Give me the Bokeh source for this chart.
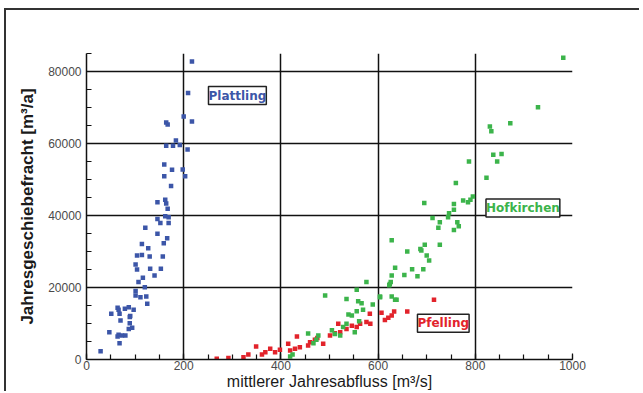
from bokeh.plotting import figure
from bokeh.models import Range1d, FixedTicker, Label, GlobalInlineStyleSheet
from bokeh.embed import file_html
from bokeh.resources import INLINE

# ---- data ----
plattling_x = [217, 209, 200, 217, 164, 167, 164, 178, 184, 192,
               208, 160, 176, 198, 160, 203, 174, 146, 162, 164,
               167, 146, 162, 169, 152, 169, 121, 146, 166, 159,
               114, 127, 104, 114, 130, 157, 101, 104, 131, 140,
               153, 116, 107, 120, 101, 101, 111, 123, 125, 64,
               66, 79, 87, 97, 51, 68, 90, 89, 70, 89,
               87, 94, 47, 66, 73, 80, 64, 68, 29]
plattling_y = [82800, 74000, 67500, 66100, 65800, 65300, 59400, 59400, 60800, 59600,
               58300, 54200, 52700, 52800, 50900, 50900, 48200, 43700, 44400, 43300,
               41900, 39000, 39800, 39500, 37900, 37900, 36600, 34900, 33700, 32300,
               32100, 30900, 28900, 29000, 28600, 28600, 26400, 25000, 25200, 23300,
               25200, 22700, 21500, 20100, 19000, 17800, 17300, 17500, 15500, 14400,
               13800, 14100, 14500, 13800, 12700, 12700, 12100, 11800, 10800, 10100,
               8500, 8800, 7600, 6900, 6700, 6700, 6400, 4500, 2300]

pfelling_x = [268, 292, 323, 333, 349, 361, 368, 378, 388, 398,
              415, 419, 429, 433, 439, 456, 460, 470, 475, 487,
              501, 511, 518, 522, 535, 546, 556, 563, 576, 583,
              584, 607, 614, 621, 628, 633, 660, 715]
pfelling_y = [200, 400, 600, 1400, 3600, 1400, 2000, 3000, 2000, 2700,
              4400, 2500, 3000, 6400, 3400, 3900, 4800, 5500, 6000, 4400,
              6700, 7300, 9900, 7600, 8500, 9400, 9000, 9900, 10400, 12700,
              9900, 13000, 11000, 11600, 12200, 13300, 13300, 16600]

hofkirchen_x = [419, 424, 456, 467, 473, 477, 491, 505, 511, 522,
                528, 535, 535, 539, 546, 552, 556, 556, 559, 561,
                566, 569, 576, 589, 604, 604, 624, 623, 626, 628,
                628, 628, 635, 635, 638, 654, 660, 670, 681, 687,
                689, 693, 695, 696, 700, 705, 712, 724, 727, 727,
                744, 746, 756, 756, 756, 760, 763, 766, 775, 785,
                790, 795, 787, 823, 830, 833, 837, 845, 854, 872,
                929, 981]
hofkirchen_y = [800, 1400, 7200, 4500, 5500, 6700, 17800, 8100, 7100, 6700,
                9000, 9900, 16800, 12500, 12200, 7600, 13400, 19400, 16200, 10600,
                15600, 13800, 21500, 15300, 17500, 17300, 21000, 20600, 21500, 17500,
                23300, 33100, 16600, 25500, 16600, 23500, 30000, 25100, 23100, 30700,
                30300, 25100, 43500, 31900, 28900, 27500, 39300, 36600, 38100, 31900,
                39500, 40600, 43200, 41600, 36000, 49000, 38100, 37000, 44200, 43700,
                44400, 45300, 55000, 50500, 64700, 63400, 56900, 55000, 57100, 65600,
                70100, 83800]

x_major = [0, 200, 400, 600, 800, 1000]
x_minor = list(range(0, 1001, 50))
y_major = [0, 20000, 40000, 60000, 80000]
y_minor = list(range(0, 85001, 5000))
x_grid = [200, 400, 600, 800]
y_grid = [20000, 40000, 60000, 80000]

BLUE = "#3c56a8"
RED = "#e2232b"
GREEN = "#3cb44b"
FONT = "Liberation Sans"

p = figure(width=635, height=383, output_backend="svg", toolbar_location=None,
           x_range=Range1d(0, 1000), y_range=Range1d(0, 85000),
           min_border_left=80, min_border_right=69, min_border_top=43, min_border_bottom=34)
p.styles = {"margin-left": "4px", "margin-top": "8px",
            "border-left": "2px solid #333333", "border-top": "2px solid #333333"}
p.stylesheets = [GlobalInlineStyleSheet(css="html, body { overflow: hidden; margin: 0; }")]
p.outline_line_color = None
p.background_fill_color = "white"
p.border_fill_color = "white"

for ax, maj, mnr in ((p.xaxis[0], x_major, x_minor), (p.yaxis[0], y_major, y_minor)):
    ax.ticker = FixedTicker(ticks=maj, minor_ticks=mnr)
    ax.axis_line_color = "#111111"
    ax.axis_line_width = 1.5
    ax.major_tick_line_color = "#111111"
    ax.minor_tick_line_color = "#111111"
    ax.major_tick_line_width = 1.2
    ax.minor_tick_line_width = 1.2
    ax.major_tick_in = 6
    ax.major_tick_out = 0
    ax.minor_tick_in = 5
    ax.minor_tick_out = 0
    ax.major_label_text_font = FONT
    ax.major_label_text_font_size = "12px"
    ax.major_label_text_color = "#4a4a4a"
    ax.axis_label_text_font = FONT
    ax.axis_label_text_color = "#1a1a1a"

p.xaxis.major_label_standoff = 1
p.xaxis.axis_label = "mittlerer Jahresabfluss [m³/s]"
p.xaxis.axis_label_text_font_size = "16px"
p.xaxis.axis_label_text_font_style = "normal"
p.xaxis.axis_label_standoff = 0

p.yaxis.major_label_standoff = 5
p.yaxis.axis_label = "Jahresgeschiebefracht [m³/a]"
p.yaxis.axis_label_text_font_size = "17px"
p.yaxis.axis_label_text_font_style = "bold"
p.yaxis.axis_label_standoff = 8

p.xgrid.ticker = FixedTicker(ticks=x_grid)
p.ygrid.ticker = FixedTicker(ticks=y_grid)
for g in (p.xgrid[0], p.ygrid[0]):
    g.grid_line_color = "#111111"
    g.grid_line_width = 1.5

p.scatter(plattling_x, plattling_y, marker="square", size=4.5, color=BLUE, line_color=None)
p.scatter(pfelling_x, pfelling_y, marker="square", size=4.5, color=RED, line_color=None)
p.scatter(hofkirchen_x, hofkirchen_y, marker="square", size=4.5, color=GREEN, line_color=None)

for txt, lx, ly, col in (("Plattling", 251, 73300, BLUE),
                         ("Hofkirchen", 822, 42100, GREEN),
                         ("Pfelling", 681, 10100, RED)):
    p.add_layout(Label(x=lx, y=ly, text=txt, text_color=col, text_font="DejaVu Sans",
                       text_font_size="12px", text_font_style="bold",
                       text_align="left", text_baseline="middle",
                       background_fill_color="white", border_line_color="#222222",
                       border_line_width=1.5, padding=(0, 2)))

open("out.html", "w").write(file_html(p, INLINE))
